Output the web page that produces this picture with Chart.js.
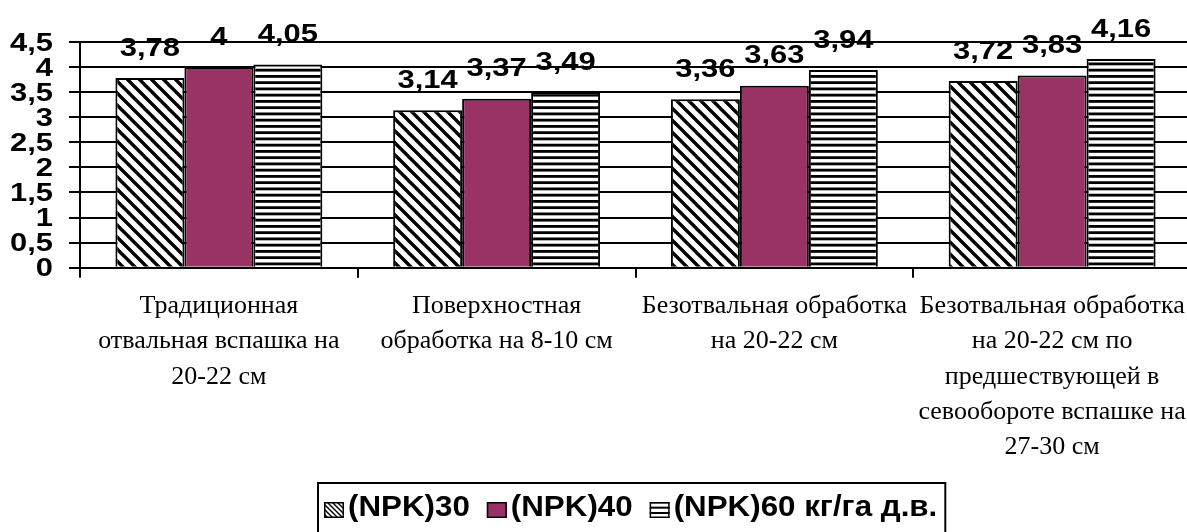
<!DOCTYPE html>
<html>
<head>
<meta charset="utf-8">
<script src="https://cdn.jsdelivr.net/npm/chart.js@4.4.1/dist/chart.umd.min.js"></script>
<style>
  html, body { margin: 0; padding: 0; background: #fff; overflow: hidden; width: 1187px; height: 532px; }
  #wrap { position: relative; width: 1200px; height: 532px; }
</style>
</head>
<body>
<div id="wrap"><canvas id="c" width="1200" height="532"></canvas></div>
<script>
// Tillage variants (x categories), one array of lines per category
const categories = [
  ["Традиционная", "отвальная вспашка на", "20-22 см"],
  ["Поверхностная", "обработка на 8-10 см"],
  ["Безотвальная обработка", "на 20-22 см"],
  ["Безотвальная обработка", "на 20-22 см по", "предшествующей в", "севообороте вспашке на", "27-30 см"]
];
// Fertiliser doses (series names)
const seriesNames = ["(NPK)30", "(NPK)40", "(NPK)60 кг/га д.в."];
// Yield values per dose
const npk30 = [3.78, 3.14, 3.36, 3.72];
const npk40 = [4, 3.37, 3.63, 3.83];
const npk60 = [4.05, 3.49, 3.94, 4.16];
// Value axis range
const yMin = 0;
const yMax = 4.5;
const yStep = 0.5;

const fmt = v => String(v).replace('.', ',');
const NUM_FONT = '"Liberation Sans", Arial, sans-serif';
const SERIF_FONT = '"Liberation Serif", "Times New Roman", serif';
const PLUM = '#993366';

// Hatch fills
function diagPattern(period, lw) {
  const c = document.createElement('canvas');
  c.width = period; c.height = period;
  const g = c.getContext('2d');
  g.fillStyle = '#fff'; g.fillRect(0, 0, period, period);
  g.strokeStyle = '#000'; g.lineWidth = lw;
  for (let k = -2; k <= 2; k++) {
    g.beginPath();
    g.moveTo(k * period - period, -period);
    g.lineTo(k * period + 2 * period, 2 * period);
    g.stroke();
  }
  return g.createPattern(c, 'repeat');
}
function hStripePattern(tileH, count, thick) {
  const c = document.createElement('canvas');
  c.width = 4; c.height = tileH;
  const g = c.getContext('2d');
  g.fillStyle = '#fff'; g.fillRect(0, 0, 4, tileH);
  g.fillStyle = '#000';
  const step = tileH / count;
  for (let i = 0; i < count; i++) g.fillRect(0, i * step, 4, thick);
  return g.createPattern(c, 'repeat');
}

const fillDiag = diagPattern(12, 3.4);
const fillStripe = hStripePattern(25, 4, 2.8);
const fills = [fillDiag, PLUM, fillStripe];
const legendFills = [diagPattern(5, 1.4), PLUM, hStripePattern(16, 3, 2)];

// Value labels above each bar
const valueLabels = {
  id: 'valueLabels',
  afterDatasetsDraw(chart) {
    const ctx = chart.ctx;
    chart.data.datasets.forEach((ds, i) => {
      const meta = chart.getDatasetMeta(i);
      meta.data.forEach((bar, j) => {
        ctx.save();
        ctx.translate(bar.x, bar.y - 22.5);
        ctx.scale(1.19, 1);
        ctx.font = 'bold 26px ' + NUM_FONT;
        ctx.textAlign = 'center';
        ctx.textBaseline = 'alphabetic';
        ctx.fillStyle = '#000';
        ctx.fillText(fmt(ds.data[j]), 0, 0);
        ctx.restore();
      });
    });
  }
};

// Value-axis tick labels (wide bold digits)
const yTickLabels = {
  id: 'yTickLabels',
  afterDraw(chart) {
    const ctx = chart.ctx;
    const s = chart.scales.y;
    s.ticks.forEach(t => {
      const y = s.getPixelForValue(t.value);
      ctx.save();
      ctx.translate(53, y + 1.5);
      ctx.scale(1.19, 1);
      ctx.font = 'bold 26px ' + NUM_FONT;
      ctx.textAlign = 'right';
      ctx.textBaseline = 'middle';
      ctx.fillStyle = '#000';
      ctx.fillText(fmt(t.value), 0, 0);
      ctx.restore();
    });
  }
};

// Framed legend below the plot
const framedLegend = {
  id: 'framedLegend',
  afterDraw(chart) {
    const ctx = chart.ctx;
    const sx = 1.08;
    const iconW = 20, iconH = 16;
    const iconTop = 502, baseline = 516;
    let x = 324;
    const startX = x - 6;
    ctx.save();
    ctx.font = 'bold 29px ' + NUM_FONT;
    chart.data.datasets.forEach((ds, i) => {
      ctx.fillStyle = legendFills[i];
      ctx.fillRect(x, iconTop, iconW, iconH);
      ctx.strokeStyle = '#000';
      ctx.lineWidth = 1.5;
      ctx.strokeRect(x + 0.75, iconTop + 0.75, iconW - 1.5, iconH - 1.5);
      const tx = x + iconW + 4;
      ctx.save();
      ctx.translate(tx, baseline);
      ctx.scale(sx, 1);
      ctx.fillStyle = '#000';
      ctx.textAlign = 'left';
      ctx.textBaseline = 'alphabetic';
      ctx.fillText(ds.label, 0, 0);
      ctx.restore();
      x = tx + ctx.measureText(ds.label).width * sx + 17;
    });
    const endX = x - 17 + 8;
    ctx.strokeStyle = '#000';
    ctx.lineWidth = 2;
    ctx.strokeRect(startX, 483, endX - startX, 70);
    ctx.restore();
  }
};

new Chart(document.getElementById('c'), {
  type: 'bar',
  data: {
    labels: categories,
    datasets: [npk30, npk40, npk60].map((d, i) => ({
      label: seriesNames[i],
      data: d,
      backgroundColor: fills[i],
      borderColor: '#000',
      borderWidth: 2
    }))
  },
  options: {
    responsive: false,
    animation: false,
    devicePixelRatio: 1,
    layout: { padding: { top: 42, right: 9, left: 0, bottom: 0 } },
    datasets: { bar: { categoryPercentage: 0.745, barPercentage: 1 } },
    plugins: { legend: { display: false }, tooltip: { enabled: false } },
    scales: {
      x: {
        offset: true,
        grid: { offset: true, drawOnChartArea: false, drawTicks: true, tickLength: 10, color: '#000', lineWidth: 2 },
        border: { color: '#000', width: 2 },
        ticks: {
          color: '#000',
          font: { family: SERIF_FONT, size: 26, lineHeight: 1.357 },
          padding: 11,
          maxRotation: 0,
          autoSkip: false
        },
        afterFit(s) { s.height = 532 - 267.7; }
      },
      y: {
        min: yMin,
        max: yMax,
        ticks: { stepSize: yStep, display: false },
        grid: { color: '#000', lineWidth: 2, drawTicks: true, tickLength: 11 },
        border: { color: '#000', width: 2 },
        afterFit(s) { s.width = 80; }
      }
    }
  },
  plugins: [valueLabels, yTickLabels, framedLegend]
});
</script>
</body>
</html>
